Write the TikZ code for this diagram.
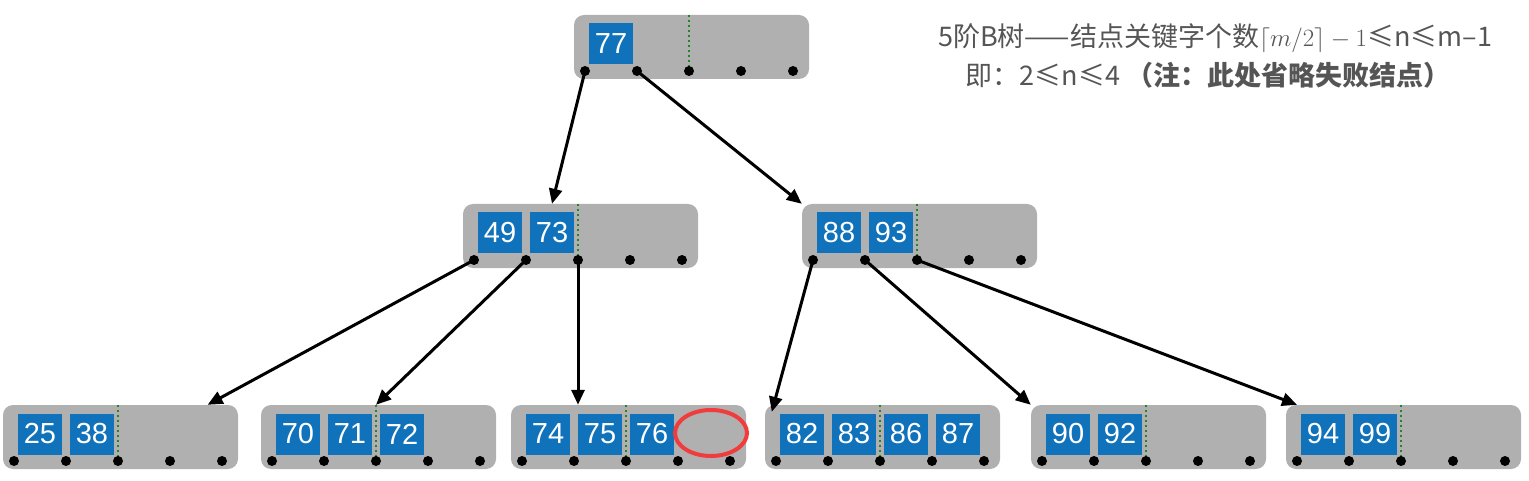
\documentclass[tikz,border=0pt]{standalone}
\usepackage{fontspec}
\usepackage{tikz}
\usetikzlibrary{arrows.meta,calc}
\newfontfamily\keyfont{Liberation Sans}
\newfontfamily\cjk{Noto Sans CJK SC}
\definecolor{boxgray}{RGB}{176,176,176}
\definecolor{keyblue}{RGB}{16,114,186}
\definecolor{splitgreen}{RGB}{40,130,40}
\definecolor{missred}{RGB}{240,60,60}
\definecolor{notegray}{RGB}{85,85,85}

% name, x of first pointer, y of pointers, keys
\newcommand{\btnode}[4]{%
  \node[nodebox] (#1) at (#2+106.5,#3-24) {};
  \foreach \i in {1,...,5}
    \coordinate (#1-\i) at (#2+52*\i-52,#3);
  \draw[splitline] (#1.north -| #1-3) -- (#1-3);
  \foreach \k [count=\i] in {#4}
    \node[keybox] (#1-k\i) at (#2+52*\i-26,#3-27) {\k};
  \foreach \i in {1,...,5}
    \fill (#1-\i) circle (5pt);
}

\begin{document}
\begin{tikzpicture}[x=1pt, y=-1pt,
  nodebox/.style={fill=boxgray, rounded corners=10pt, minimum width=235pt,
    minimum height=64pt, inner sep=0pt},
  keybox/.style={fill=keyblue, text=white, minimum width=44pt,
    minimum height=41pt, inner sep=0pt,
    font=\keyfont\fontsize{29}{29}\selectfont},
  splitline/.style={splitgreen, line width=2.5pt, dash pattern=on 2.5pt off 2.5pt},
  child/.style={line width=3pt, -{Stealth[length=15pt, width=13pt, inset=0pt]}},
  infotext/.style={text=notegray, inner sep=0pt,
    font=\cjk\fontsize{27}{30}\selectfont}
]
\useasboundingbox (0,0) rectangle (1529,481);

% root
\btnode{r}{585}{71}{77}
% second level
\btnode{l}{474}{260}{49,73}
\btnode{rr}{813}{260}{88,93}
% leaves
\btnode{a}{14}{461}{25,38}
\btnode{b}{272}{461}{70,71,72}
\btnode{c}{522}{461}{74,75,76}
\btnode{d}{776}{461}{82,83,86,87}
\btnode{e}{1042}{461}{90,92}
\btnode{f}{1297}{461}{94,99}

% pointers
\draw[child] (r-1) -- (l.north -| l-k2);
\draw[child] (r-2) -- (rr.north west);
\draw[child] (l-1) -- ($(a.north west)!0.87!(a.north east)$);
\draw[child] (l-2) -- (b.north -| b-3);
\draw[child] (l-3) -- (c.north -| l-3);
\draw[child] (rr-1) -- ([shift={(7pt,-7pt)}]d.north west);
\draw[child] (rr-2) -- (e.north west);
\draw[child] (rr-3) -- (f.north -| f-1);

% overflow slot
\draw[missred, line width=4pt] (711,433) ellipse [x radius=36pt, y radius=23pt];

% note
\node[infotext] (title) at (1215,38)
  {5阶B树——结点关键字个数$\lceil m/2\rceil - 1$≤n≤m–1};
\node[infotext] (note) at (1208,75)
  {即：2≤n≤4 \textbf{（注：此处省略失败结点）}};
\end{tikzpicture}
\end{document}
